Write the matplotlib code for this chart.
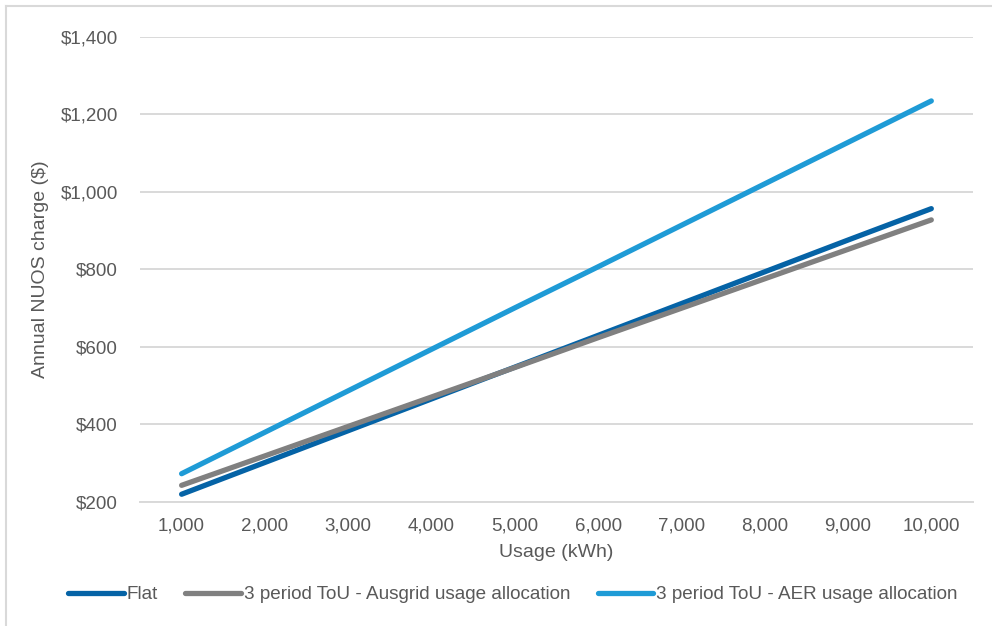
import matplotlib
matplotlib.use("Agg")
import matplotlib.pyplot as plt
from matplotlib.ticker import FuncFormatter
from matplotlib.lines import Line2D

plt.rcParams['font.family'] = ['Liberation Sans', 'DejaVu Sans']

# Datos
uso_kwh = [1000, 2000, 3000, 4000, 5000, 6000, 7000, 8000, 9000, 10000]
flat = [220, 302, 384, 466, 548, 630, 712, 794, 876, 957]
ausgrid = [243, 319, 395, 471, 547, 624, 700, 776, 852, 928]
aer = [273, 380, 487, 594, 701, 807, 914, 1021, 1128, 1235]

series = [
    ("Flat", flat, "#0563a6"),
    ("3 period ToU - Ausgrid usage allocation", ausgrid, "#808080"),
    ("3 period ToU - AER usage allocation", aer, "#1f9bd6"),
]

texto = "#595959"

fig = plt.figure(figsize=(9.92, 6.26), dpi=100)
ax = fig.add_axes([0.1411, 0.1981, 0.8397, 0.7428])

for nombre, valores, color in series:
    ax.plot(uso_kwh, valores, color=color, lw=3.8, solid_capstyle='round', label=nombre)

ax.set_xlim(500, 10500)
ax.set_ylim(200, 1400)
ax.set_xticks(uso_kwh)
ax.set_yticks(range(200, 1401, 200))
ax.xaxis.set_major_formatter(FuncFormatter(lambda v, p: f"{int(v):,}"))
ax.yaxis.set_major_formatter(FuncFormatter(lambda v, p: f"${int(v):,}"))
ax.tick_params(length=0, labelsize=13.5, colors=texto)
ax.tick_params(axis='x', pad=11)
ax.tick_params(axis='y', pad=16)
ax.grid(axis='y', color='#d9d9d9', lw=1.4)
ax.set_axisbelow(True)
for lado in ['top', 'right', 'left']:
    ax.spines[lado].set_visible(False)
ax.spines['bottom'].set_color('#d9d9d9')
ax.spines['bottom'].set_linewidth(1.4)

ax.set_xlabel("Usage (kWh)", fontsize=14, color=texto, labelpad=7)
ax.set_ylabel("Annual NUOS charge ($)", fontsize=14, color=texto, labelpad=8)

leg = fig.legend(loc='center', bbox_to_anchor=(0.517, 0.05), ncol=3, frameon=False,
                 fontsize=13.6, handlelength=2.95, handletextpad=0.15, columnspacing=1.45)
for t in leg.get_texts():
    t.set_color(texto)

# marco de la figura
fig.add_artist(Line2D([0.006, 0.006], [0, 0.99], color='#d9d9d9', lw=1.5, transform=fig.transFigure))
fig.add_artist(Line2D([0.006, 1], [0.99, 0.99], color='#d9d9d9', lw=1.5, transform=fig.transFigure))

plt.savefig("out.png", dpi=100)
plt.close()
